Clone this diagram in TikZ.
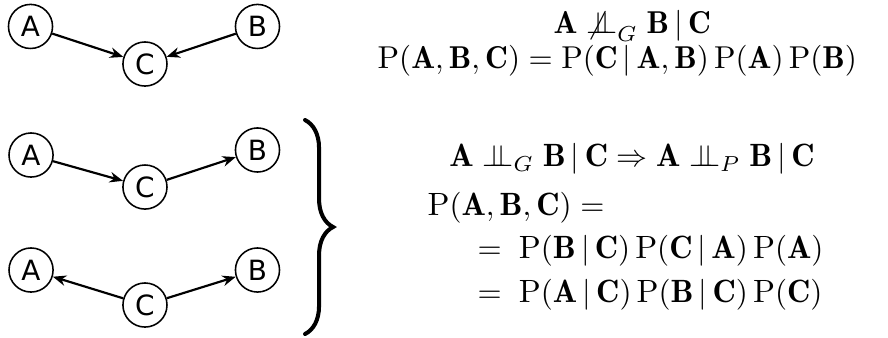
\documentclass[tikz,border=0pt]{standalone}
\usepackage{amsmath,amssymb}
\usepackage{fontspec}
\newfontfamily\varfont{DejaVu Sans}
\usepackage{tikz}
\usetikzlibrary{arrows.meta, positioning, decorations.pathreplacing}
\newcommand{\indep}{\mathrel{\perp\mkern-10mu\perp}}
\newcommand{\nindep}{\mathrel{\not\perp\mkern-10mu\perp}}

\begin{document}
\begin{tikzpicture}[
    var/.style={circle, draw, line width=0.5pt, minimum size=0.5cm,
        inner sep=0pt, font=\varfont\fontsize{9}{9}\selectfont},
    arr/.style={-{Stealth[length=4.3pt, width=3.4pt, inset=1.4pt]}, line width=0.7pt},
    eq/.style={inner sep=0pt, anchor=base, font=\fontsize{10.2}{12}\selectfont},
    eql/.style={inner sep=0pt, anchor=base west, font=\fontsize{10.4}{12}\selectfont}
]
\useasboundingbox (0,0) rectangle (10.07,-3.833);

\node[var] (a1) at (0.346,-0.300) {A};
\node[var] (c1) at (1.644,-0.726) {C};
\node[var] (b1) at (2.920,-0.300) {B};

\node[var] (a2) at (0.352,-1.758) {A};
\node[var] (c2) at (1.644,-2.121) {C};
\node[var] (b2) at (2.920,-1.701) {B};

\node[var] (a3) at (0.352,-3.062) {A};
\node[var] (c3) at (1.644,-3.459) {C};
\node[var] (b3) at (2.920,-3.062) {B};

\draw[arr] (a1) -- (c1);
\draw[arr] (b1) -- (c1);
\draw[arr] (a2) -- (c2);
\draw[arr] (c2) -- (b2);
\draw[arr] (c3) -- (a3);
\draw[arr] (c3) -- (b3);

\draw[decorate, decoration={brace, amplitude=0.318cm}, line width=1.3pt, line cap=round]
    (3.459,-1.361) -- (3.459,-3.788);

\node[eq] (l1) at (7.17,-0.38) {$\mathbf{A} \nindep_G \mathbf{B}\,|\,\mathbf{C}$};
\node[eq] (l2) at (7.00,-0.775) {$\mathrm{P}(\mathbf{A},\mathbf{B},\mathbf{C}) = \mathrm{P}(\mathbf{C}\,|\,\mathbf{A},\mathbf{B})\,\mathrm{P}(\mathbf{A})\,\mathrm{P}(\mathbf{B})$};

\node[eql] (m1) at (5.09,-1.89) {$\mathbf{A} \indep_G \mathbf{B}\,|\,\mathbf{C} \Rightarrow \mathbf{A} \indep_P \mathbf{B}\,|\,\mathbf{C}$};
\node[eql] (m2) at (4.842,-2.44) {$\mathrm{P}(\mathbf{A},\mathbf{B},\mathbf{C}) =$};
\node[eql] (m3) at (5.409,-2.93) {$=\;\mathrm{P}(\mathbf{B}\,|\,\mathbf{C})\,\mathrm{P}(\mathbf{C}\,|\,\mathbf{A})\,\mathrm{P}(\mathbf{A})$};
\node[eql] (m4) at (5.409,-3.43) {$=\;\mathrm{P}(\mathbf{A}\,|\,\mathbf{C})\,\mathrm{P}(\mathbf{B}\,|\,\mathbf{C})\,\mathrm{P}(\mathbf{C})$};
\end{tikzpicture}
\end{document}
